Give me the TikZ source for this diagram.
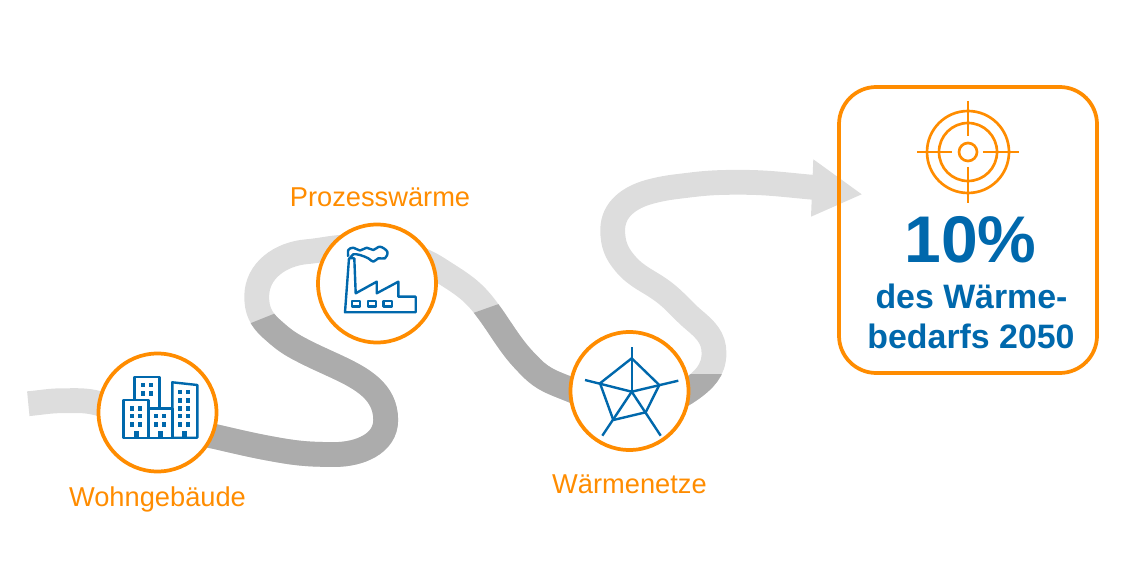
\documentclass[tikz,border=0pt]{standalone}
\usepackage{fontspec}
\setmainfont{Liberation Sans}
\definecolor{ringorange}{HTML}{FF8C00}
\definecolor{iconblue}{HTML}{0068AC}
\definecolor{roadlight}{HTML}{DDDDDD}
\definecolor{roaddark}{HTML}{ACACAC}
\newcommand{\roadline}{(28.3,-403.7) to [out=5,in=180] (63,-400.7) to [out=0,in=165] (99,-403.5) to [out=-15,in=160] (157,-425) to [out=-20,in=167] (217,-437) to [out=-13,in=170] (278.3,-450) to [out=-10,in=180] (335,-454.5) to [out=0,in=-90] (385.7,-420) to [out=90,in=-25] (336.7,-366.7) to [out=155,in=-28] (298.3,-348.3) to [out=152,in=-42] (271,-328.3) to [out=138,in=-90] (256.7,-296.7) to [out=90,in=-175] (306.7,-251.7) to [out=5,in=180] (350,-247) to [out=0,in=165] (400,-253) to [out=-15,in=147] (440,-270) to [out=-33,in=128] (484,-305.7) to [out=-52,in=125] (508,-340) to [out=-55,in=135] (531.7,-368) to [out=-45,in=158] (569,-389) to [out=-22,in=180] (629,-405) to [out=0,in=-145] (690,-390) to [out=35,in=-90] (714,-353) to [out=90,in=-40] (694,-320) to [out=140,in=-37] (663.3,-291.7) to [out=143,in=-50] (625,-263.3) to [out=130,in=-90] (612.7,-230) to [out=90,in=-165] (650,-191.7) to [out=15,in=-173] (690,-185) to [out=7,in=180] (740,-182.3) to [out=0,in=175] (813,-187.3)}
\tikzset{
	roadlit/.style={draw=roadlight,line width=18.6pt},
	roaddim/.style={draw=roaddark,line width=18.6pt},
	ring/.style={circle,draw=ringorange,fill=white,line width=2.8pt,minimum size=88.5pt,inner sep=0pt},
	icon/.style={draw=iconblue,line width=1.8pt,line join=round},
	label/.style={text=ringorange,inner sep=0pt,anchor=base,font=\fontsize{20.45}{24}\selectfont},
	figure/.style={text=iconblue,inner sep=0pt,anchor=base,font=\bfseries\fontsize{25.4}{30}\selectfont},
	crosshair/.style={draw=ringorange,line width=2pt}
}
\begin{document}
\begin{tikzpicture}[x=0.75pt,y=0.75pt]
	\useasboundingbox (0,0) rectangle (1141,-566);
	% road
	\draw [roadlit] \roadline;
	\fill [roadlight] (861.7,-194.3) -- (813.3,-159.3) -- (811,-216.7) -- cycle;
	\begin{scope}
		\clip (230,-331.4) -- (300,-303.4) -- (420,-360) -- (420,-480) -- (200,-480) -- (200,-400) -- cycle;
		\draw [roaddim] \roadline;
	\end{scope}
	\begin{scope}
		\clip (460,-317.7) -- (510,-300) -- (640,-390) -- (640,-440) -- (480,-420) -- cycle;
		\draw [roaddim] \roadline;
	\end{scope}
	\begin{scope}
		\clip (640,-374) rectangle (740,-430);
		\draw [roaddim] \roadline;
	\end{scope}
	% rings
	\node [ring] (wohnen) at (157.5,-412.5) {};
	\node [ring] (prozess) at (377,-283.5) {};
	\node [ring] (netz) at (629.5,-391) {};
	% labels
	\node [label] (wohnentext) at (157.5,-506) {Wohngebäude};
	\node [label] (prozesstext) at (380,-207) {Prozesswärme};
	\node [label] (netztext) at (629.5,-493) {Wärmenetze};
	% buildings
	\draw [icon] (134.3,-400) -- (134.3,-376.7) -- (159.3,-376.7) -- (159.3,-408.3);
	\draw [icon] (123.3,-400) rectangle (148.3,-437.7);
	\draw [icon] (148.3,-408.3) rectangle (172.3,-437.7);
	\draw [icon] (172.3,-382.3) -- (197.3,-385) -- (197.3,-437.7) -- (172.3,-437.7) -- cycle;
	\fill [iconblue] (140.5,-382.8) rectangle +(4.5,-4.5);
	\fill [iconblue] (148.5,-382.8) rectangle +(4.5,-4.5);
	\fill [iconblue] (140.5,-391.1) rectangle +(4.5,-4.5);
	\fill [iconblue] (148.5,-391.1) rectangle +(4.5,-4.5);
	\fill [iconblue] (129.8,-406.1) rectangle +(4.5,-4.5);
	\fill [iconblue] (137.8,-406.1) rectangle +(4.5,-4.5);
	\fill [iconblue] (129.8,-413.8) rectangle +(4.5,-4.5);
	\fill [iconblue] (137.8,-413.8) rectangle +(4.5,-4.5);
	\fill [iconblue] (129.8,-422.1) rectangle +(4.5,-4.5);
	\fill [iconblue] (137.8,-422.1) rectangle +(4.5,-4.5);
	\fill [iconblue] (153.8,-413.8) rectangle +(4.5,-4.5);
	\fill [iconblue] (161.8,-413.8) rectangle +(4.5,-4.5);
	\fill [iconblue] (153.8,-422.1) rectangle +(4.5,-4.5);
	\fill [iconblue] (161.8,-422.1) rectangle +(4.5,-4.5);
	\fill [iconblue] (177.8,-389.8) rectangle +(4.5,-4.5);
	\fill [iconblue] (185.8,-389.8) rectangle +(4.5,-4.5);
	\fill [iconblue] (177.8,-398.1) rectangle +(4.5,-4.5);
	\fill [iconblue] (185.8,-398.1) rectangle +(4.5,-4.5);
	\fill [iconblue] (177.8,-406.1) rectangle +(4.5,-4.5);
	\fill [iconblue] (185.8,-406.1) rectangle +(4.5,-4.5);
	\fill [iconblue] (177.8,-413.8) rectangle +(4.5,-4.5);
	\fill [iconblue] (185.8,-413.8) rectangle +(4.5,-4.5);
	\fill [iconblue] (177.8,-422.1) rectangle +(4.5,-4.5);
	\fill [iconblue] (185.8,-422.1) rectangle +(4.5,-4.5);
	\fill [iconblue] (133.5,-430.7) rectangle (138.5,-437.7);
	\fill [iconblue] (157.5,-430.7) rectangle (162.5,-437.7);
	\fill [iconblue] (181.5,-430.7) rectangle (186.5,-437.7);
	% factory
	\draw [icon] (345,-312.3) -- (349,-258.3) -- (354.3,-258.3) -- (355.7,-293.3) -- (376.7,-281.7) -- (376.7,-293.3) -- (398.3,-281.7) -- (398.3,-296.7) -- (415.7,-296.7) -- (415.7,-312.3) -- cycle;
	\draw [icon] (351.7,-301) rectangle (360,-306.7);
	\draw [icon] (367.7,-301) rectangle (375.7,-306.7);
	\draw [icon] (383.3,-301) rectangle (391.7,-306.7);
	\draw [icon] plot [smooth,tension=0.6] coordinates {(348.3,-256.7) (348.3,-250) (353.3,-247.7) (360,-250.5) (366.7,-247.7) (373.3,-250) (380,-246.7) (387.3,-251.7) (385,-258.3) (378.3,-258.3) (373.3,-261.7) (368.3,-258.3) (360,-255) (353.3,-254.3) (350.7,-257.7)};
	% spider web
	\coordinate (hub) at (631.7,-391.7);
	\coordinate (webtop) at (631.7,-358.3);
	\coordinate (webright) at (659.3,-385);
	\coordinate (weblr) at (645.7,-412.3);
	\coordinate (webll) at (613.3,-420);
	\coordinate (webleft) at (600,-383.3);
	\draw [icon] (webtop) -- (webright) -- (weblr) -- (webll) -- (webleft) -- cycle;
	\draw [icon] (hub) -- (631.7,-346.7);
	\draw [icon] (hub) -- (678.3,-380.7);
	\draw [icon] (hub) -- (660.7,-435.7);
	\draw [icon] (hub) -- (602.3,-435.7);
	\draw [icon] (hub) -- (585,-380);
	% result box
	\node [draw=ringorange,line width=2.8pt,rounded corners=28pt,inner sep=0pt,minimum width=193.5pt,minimum height=214.5pt] (goal) at (968,-230) {};
	\draw [crosshair] (968,-152) circle (9);
	\draw [crosshair] (968,-152) circle (29);
	\draw [crosshair] (968,-152) circle (41);
	\draw [crosshair] (917,-152) -- (952,-152);
	\draw [crosshair] (983,-152) -- (1019,-152);
	\draw [crosshair] (968,-101) -- (968,-136);
	\draw [crosshair] (968,-167) -- (968,-203);
	\node [figure,font=\bfseries\fontsize{49.5}{60}\selectfont] (percent) at (970.5,-263) {10\%};
	\node [figure] (line1) at (971.5,-309) {des Wärme-};
	\node [figure] (line2) at (971,-349) {bedarfs 2050};
\end{tikzpicture}
\end{document}
